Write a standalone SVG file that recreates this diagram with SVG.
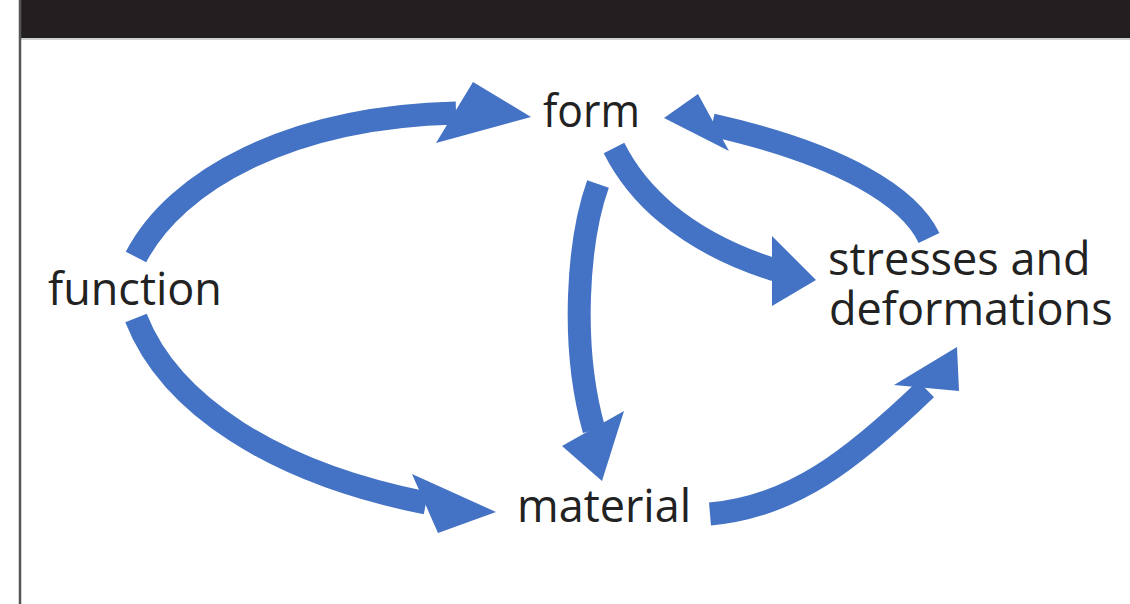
<svg xmlns="http://www.w3.org/2000/svg" width="1130" height="604" viewBox="0 0 1130 604">
  <style>
    .lbl { font-family: "Open Sans", "Liberation Sans", Arial, sans-serif; font-size: 45px; fill: #222222; }
    .shaft { fill: none; stroke: #4472C4; stroke-width: 23; stroke-linecap: butt; }
    .head { fill: #4472C4; stroke: none; }
  </style>
  <rect x="0" y="0" width="1130" height="604" fill="#ffffff"/>
  <rect x="20" y="0" width="1110" height="38" fill="#231f20"/>
  <line x1="20" y1="39" x2="1130" y2="39" stroke="#d0d0d0" stroke-width="2"/>
  <line x1="20" y1="0" x2="20" y2="604" stroke="#555555" stroke-width="2.5"/>

  <g id="connectors">
    <g id="function-form">
      <path class="shaft" d="M136,257 C176,180 290,117 456,113"/>
      <polygon class="head" points="473,82 531,117 436,143"/>
    </g>
    <g id="function-material">
      <path class="shaft" d="M136,318 C170,405 275,473 426,503"/>
      <polygon class="head" points="412,474 496,512 438,533"/>
    </g>
    <g id="form-material">
      <path class="shaft" d="M598,184 C578,240 570,345 594,430"/>
      <polygon class="head" points="562,446 624,411 602,481"/>
    </g>
    <g id="form-stresses">
      <path class="shaft" d="M614,148 C635,190 680,240 775,270"/>
      <polygon class="head" points="772,236 816,280 772,306"/>
    </g>
    <g id="stresses-form">
      <path class="shaft" d="M929,238 C910,198 845,155 712,125"/>
      <polygon class="head" points="698,94 664,118 729,151"/>
    </g>
    <g id="material-stresses">
      <path class="shaft" d="M710,514 C792,507 852,460 926,389"/>
      <polygon class="head" points="894,385 957,347 959,391"/>
    </g>
  </g>

  <g id="node-form"><text class="lbl" x="543" y="127" textLength="97" lengthAdjust="spacingAndGlyphs">form</text></g>
  <g id="node-function"><text class="lbl" x="48" y="305">function</text></g>
  <g id="node-stresses"><text class="lbl"><tspan x="828" y="275">stresses and</tspan><tspan x="829" y="325">deformations</tspan></text></g>
  <g id="node-material"><text class="lbl" x="517" y="522">material</text></g>
</svg>
